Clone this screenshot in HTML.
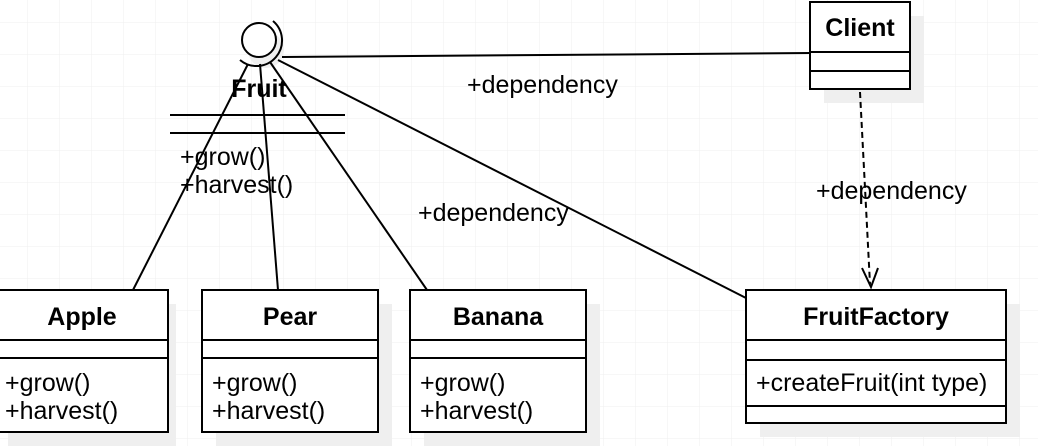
<!DOCTYPE html>
<html><head><style>
body{margin:0;background:#fff}
svg{display:block}
text{font-family:"Liberation Sans",sans-serif;font-size:25px;fill:#000}
.b{font-weight:bold}
</style></head><body>
<svg width="1038" height="446" viewBox="0 0 1038 446">
<defs><pattern id="g" width="32" height="32" patternUnits="userSpaceOnUse" x="27" y="22"><path d="M32 0H0V32" fill="none" stroke="#efefef" stroke-width="1"/></pattern></defs>
<rect width="1038" height="446" fill="url(#g)"/>
<g fill="#efefef">
<rect x="824" y="16" width="100" height="87"/>
<rect x="760" y="304" width="260" height="133"/>
<rect x="8" y="304" width="168" height="142"/>
<rect x="216" y="304" width="176" height="142"/>
<rect x="424" y="304" width="176" height="142"/>
<circle cx="266" cy="50" r="18"/>
</g>
<g stroke="#000" stroke-width="2" fill="none">
<line x1="282" y1="57" x2="810" y2="53"/>
<line x1="248" y1="64" x2="133" y2="290"/>
<line x1="260" y1="64" x2="278" y2="290"/>
<line x1="270" y1="62" x2="427" y2="290"/>
<line x1="278" y1="60" x2="746" y2="298"/>
<line x1="860" y1="92" x2="870" y2="284" stroke-dasharray="6,4"/>
<polyline points="862,268 871,287 878,268"/>
<circle cx="259" cy="40" r="17" fill="#fff"/>
<path d="M273 21 A23 23 0 0 1 240 60"/>
<line x1="170" y1="115" x2="345" y2="115"/>
<line x1="170" y1="133" x2="345" y2="133"/>
<rect x="810" y="2" width="100" height="87" fill="#fff"/>
<line x1="810" y1="52" x2="910" y2="52"/>
<line x1="810" y1="71" x2="910" y2="71"/>
<rect x="746" y="290" width="260" height="133" fill="#fff"/>
<line x1="746" y1="340" x2="1006" y2="340"/>
<line x1="746" y1="360" x2="1006" y2="360"/>
<line x1="746" y1="406" x2="1006" y2="406"/>
<rect x="-2" y="290" width="170" height="142" fill="#fff"/>
<line x1="-2" y1="340" x2="168" y2="340"/><line x1="-2" y1="358" x2="168" y2="358"/>
<rect x="202" y="290" width="176" height="142" fill="#fff"/>
<line x1="202" y1="340" x2="378" y2="340"/><line x1="202" y1="358" x2="378" y2="358"/>
<rect x="410" y="290" width="176" height="142" fill="#fff"/>
<line x1="410" y1="340" x2="586" y2="340"/><line x1="410" y1="358" x2="586" y2="358"/>
</g>
<text class="b" x="259" y="97" text-anchor="middle" font-size="24">Fruit</text>
<text x="180" y="165">+grow()</text>
<text x="180" y="193">+harvest()</text>
<text x="467" y="93">+dependency</text>
<text x="418" y="221">+dependency</text>
<text x="816" y="199">+dependency</text>
<text class="b" x="860" y="36" text-anchor="middle" font-size="24">Client</text>
<text class="b" x="876" y="325" text-anchor="middle" font-size="24">FruitFactory</text>
<text x="756" y="391">+createFruit(int type)</text>
<text class="b" x="82" y="325" text-anchor="middle" font-size="24">Apple</text>
<text x="5" y="391">+grow()</text><text x="5" y="419">+harvest()</text>
<text class="b" x="290" y="325" text-anchor="middle" font-size="24">Pear</text>
<text x="212" y="391">+grow()</text><text x="212" y="419">+harvest()</text>
<text class="b" x="498" y="325" text-anchor="middle" font-size="24">Banana</text>
<text x="420" y="391">+grow()</text><text x="420" y="419">+harvest()</text>
</svg>
</body></html>
